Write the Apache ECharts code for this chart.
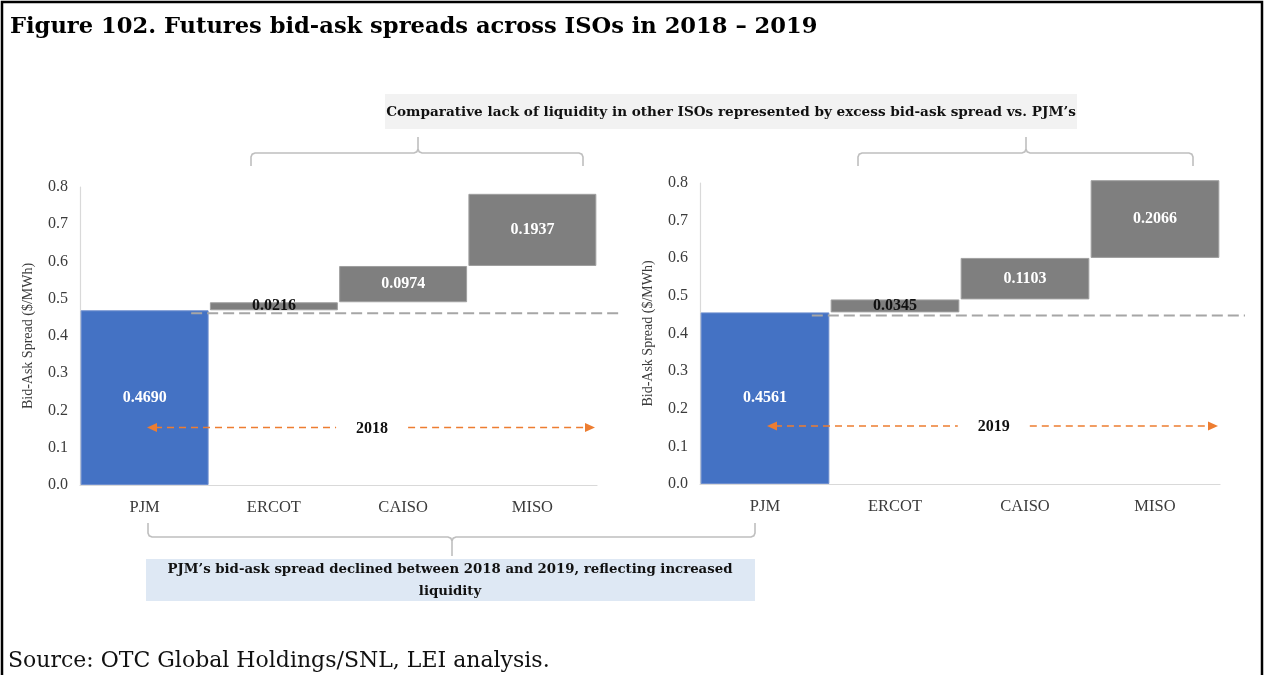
<!DOCTYPE html>
<html>
<head>
<meta charset="utf-8">
<script src="https://cdn.jsdelivr.net/npm/echarts@6/dist/echarts.min.js"></script>
<style>
  html, body { margin: 0; padding: 0; background: #fff; }
  #chart { width: 1264px; height: 675px; }
</style>
</head>
<body>
<div id="chart"></div>
<script>
// ---- data ----
const categories = ['PJM', 'ERCOT', 'CAISO', 'MISO'];
const spread2018 = [0.4690, 0.0216, 0.0974, 0.1937];
const spread2019 = [0.4561, 0.0345, 0.1103, 0.2066];
const years = ['2018', '2019'];
const yMin = 0, yMax = 0.8, yStep = 0.1;

// ---- styles ----
const SERIF = '"DejaVu Serif", "Liberation Serif", serif';       // title and callouts
const CHART_SERIF = '"Liberation Serif", "DejaVu Serif", serif'; // axes and bar labels
const BLUE = '#4472c4', GRAY = '#7f7f7f', ORANGE = '#ed7d31';
const GUIDE = '#bfbfbf', TEXT = '#3b3b3b';

// running total below each bar of the waterfall
function baseline(values) {
  const out = [];
  let acc = 0;
  values.forEach(v => { out.push(acc); acc += v; });
  return out;
}

const grids = [
  { left: 80, top: 187, width: 517, height: 298 },
  { left: 700, top: 183, width: 520, height: 301 }
];

function axesFor(i) {
  return {
    x: {
      type: 'category', gridIndex: i, data: categories,
      axisLine: { show: true, lineStyle: { color: '#d9d9d9', width: 1.2 } },
      axisTick: { show: false },
      axisLabel: { color: TEXT, fontFamily: CHART_SERIF, fontSize: 16.5, margin: 14 }
    },
    y: {
      type: 'value', gridIndex: i, min: yMin, max: yMax, interval: yStep,
      name: 'Bid-Ask Spread ($/MWh)', nameLocation: 'middle', nameGap: 45,
      nameRotate: 90,
      nameTextStyle: { color: TEXT, fontFamily: CHART_SERIF, fontSize: 14 },
      axisLine: { show: true, lineStyle: { color: '#d9d9d9', width: 1.2 } },
      axisTick: { show: false },
      splitLine: { show: false },
      axisLabel: { color: TEXT, fontFamily: CHART_SERIF, fontSize: 16, margin: 12,
                   formatter: v => v.toFixed(1) }
    }
  };
}

function seriesFor(values, i, year) {
  const base = baseline(values);
  const bars = values.map((v, k) => ({
    value: v,
    itemStyle: { color: k === 0 ? BLUE : GRAY, borderColor: k === 0 ? '#6f8fcf' : '#a0a0a0', borderWidth: 1 },
    label: { color: k === 1 ? '#111' : '#fff' }
  }));
  return [
    {
      type: 'bar', xAxisIndex: i, yAxisIndex: i, stack: 'wf' + i,
      data: base, silent: true, barCategoryGap: '1%',
      itemStyle: { color: 'transparent' }
    },
    {
      type: 'bar', xAxisIndex: i, yAxisIndex: i, stack: 'wf' + i,
      data: bars, barCategoryGap: '1%', clip: false, z: 3,
      label: {
        show: true, position: 'inside', fontFamily: CHART_SERIF, fontWeight: 'bold',
        fontSize: 16, formatter: p => p.value.toFixed(4)
      }
    },
    {
      // dashed guide at the PJM level, running across the other ISOs
      type: 'custom', xAxisIndex: i, yAxisIndex: i, z: 4, silent: true,
      data: [[0, values[0]]],
      renderItem: (params, api) => {
        const cs = params.coordSys;
        const p = api.coord([api.value(0), api.value(1)]);
        const band = api.size([1, 0])[0];
        const y = p[1] + 3;
        return {
          type: 'line',
          shape: { x1: p[0] + band * 0.36, y1: y, x2: cs.x + cs.width + 25, y2: y },
          style: { stroke: '#a6a6a6', lineWidth: 2, lineDash: [11, 5] }
        };
      }
    },
    {
      // year marker: double-headed dashed arrow
      type: 'custom', xAxisIndex: i, yAxisIndex: i, z: 4, silent: true,
      data: [[0, 0]],
      renderItem: (params, api) => {
        const cs = params.coordSys;
        const y = cs.y + cs.height * 0.807;
        const xL = cs.x + 67, xR = cs.x + cs.width - 2;
        const xc = cs.x + cs.width * 0.565;
        const ls = { stroke: ORANGE, lineWidth: 1.5, lineDash: [7, 5] };
        return {
          type: 'group',
          children: [
            { type: 'line', shape: { x1: xL + 8, y1: y, x2: xc - 36, y2: y }, style: ls },
            { type: 'line', shape: { x1: xc + 36, y1: y, x2: xR - 8, y2: y }, style: ls },
            { type: 'polygon', shape: { points: [[xL, y], [xL + 10, y - 4.5], [xL + 10, y + 4.5]] }, style: { fill: ORANGE } },
            { type: 'polygon', shape: { points: [[xR, y], [xR - 10, y - 4.5], [xR - 10, y + 4.5]] }, style: { fill: ORANGE } },
            { type: 'text', style: { text: year, x: xc, y: y + 1, align: 'center', verticalAlign: 'middle',
                                     fill: '#111', font: 'bold 16px ' + CHART_SERIF } }
          ]
        };
      }
    }
  ];
}

const a0 = axesFor(0), a1 = axesFor(1);

// bracket opening downward, with a centre stem pointing up
const braceTop = (l, c, r) => [
  [l, 166], [l, 157], [l + 1.2, 154.2], [l + 4, 153], [c - 4, 153], [c - 1.2, 151.8], [c, 149], [c, 137],
  [c, 149], [c + 1.2, 151.8], [c + 4, 153], [r - 4, 153], [r - 1.2, 154.2], [r, 157], [r, 166]
];
// bracket opening upward, with a centre stem pointing down
const braceBottom = (l, c, r) => [
  [l, 523], [l, 533], [l + 1.2, 535.8], [l + 4, 537], [c - 4, 537], [c - 1.2, 538.2], [c, 541], [c, 556],
  [c, 541], [c + 1.2, 538.2], [c + 4, 537], [r - 4, 537], [r - 1.2, 535.8], [r, 533], [r, 523]
];

const guideStyle = { stroke: GUIDE, lineWidth: 1.6, fill: null };

const option = {
  animation: false,
  grid: grids.map(g => Object.assign({ containLabel: false }, g)),
  xAxis: [a0.x, a1.x],
  yAxis: [a0.y, a1.y],
  series: [...seriesFor(spread2018, 0, years[0]), ...seriesFor(spread2019, 1, years[1])],
  graphic: [
    // figure frame
    { type: 'polyline', silent: true,
      shape: { points: [[2, 700], [2, 2], [1262, 2], [1262, 700]] },
      style: { stroke: '#000', lineWidth: 2.5, fill: null } },
    { type: 'text', silent: true,
      style: { text: 'Figure 102. Futures bid-ask spreads across ISOs in 2018 \u2013 2019',
               x: 10, y: 27, verticalAlign: 'middle', fill: '#000', font: 'bold 22.6px ' + SERIF } },
    // top callout
    { type: 'rect', silent: true, shape: { x: 385, y: 94, width: 692, height: 35 }, style: { fill: '#f2f2f2' } },
    { type: 'text', silent: true,
      style: { text: 'Comparative lack of liquidity in other ISOs represented by excess bid-ask spread vs. PJM\u2019s',
               x: 731, y: 112, align: 'center', verticalAlign: 'middle', fill: '#111', font: 'bold 13.6px ' + SERIF } },
    { type: 'polyline', silent: true, shape: { points: braceTop(251, 418, 583) }, style: guideStyle },
    { type: 'polyline', silent: true, shape: { points: braceTop(858, 1026, 1193) }, style: guideStyle },
    // bottom callout
    { type: 'polyline', silent: true, shape: { points: braceBottom(148, 452, 755) }, style: guideStyle },
    { type: 'rect', silent: true, shape: { x: 146, y: 559, width: 609, height: 42 }, style: { fill: '#dee8f4' } },
    { type: 'text', silent: true,
      style: { text: 'PJM\u2019s bid-ask spread declined between 2018 and 2019, reflecting increased\nliquidity',
               x: 450, y: 581, align: 'center', verticalAlign: 'middle', lineHeight: 22,
               fill: '#111', font: 'bold 13.3px ' + SERIF } },
    { type: 'text', silent: true,
      style: { text: 'Source: OTC Global Holdings/SNL, LEI analysis.', x: 8, y: 661, verticalAlign: 'middle',
               fill: '#111', font: '22px ' + SERIF } }
  ]
};

const chart = echarts.init(document.getElementById('chart'), null, { renderer: 'canvas' });
chart.setOption(option);
</script>
</body>
</html>
